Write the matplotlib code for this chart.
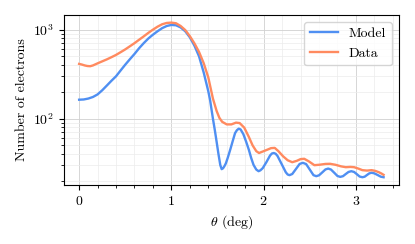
import matplotlib
matplotlib.use("Agg")
import matplotlib.pyplot as plt
from matplotlib.ticker import MultipleLocator

plt.rcParams['font.family'] = 'serif'
plt.rcParams['font.serif'] = ['cmr10']
plt.rcParams['mathtext.fontset'] = 'cm'
plt.rcParams['axes.formatter.use_mathtext'] = True
plt.rcParams['font.size'] = 10

model_theta = [0.00, 0.05, 0.10, 0.15, 0.20, 0.25, 0.30, 0.35, 0.40, 0.45, 0.50, 0.55,
               0.60, 0.65, 0.70, 0.75, 0.80, 0.85, 0.90, 0.95, 1.00, 1.05, 1.10, 1.15,
               1.20, 1.25, 1.30, 1.35, 1.40, 1.42, 1.45, 1.47, 1.49, 1.51, 1.53, 1.545,
               1.56, 1.575, 1.59, 1.61, 1.64, 1.665, 1.69, 1.71, 1.73, 1.75, 1.78, 1.81,
               1.84, 1.865, 1.89, 1.92, 1.945, 1.965, 1.99, 2.03, 2.07, 2.09, 2.11, 2.13,
               2.15, 2.195, 2.24, 2.26, 2.28, 2.31, 2.35, 2.39, 2.425, 2.46, 2.50, 2.54,
               2.57, 2.60, 2.635, 2.67, 2.70, 2.73, 2.765, 2.80, 2.83, 2.86, 2.89, 2.92,
               2.95, 2.98, 3.01, 3.04, 3.07, 3.095, 3.12, 3.145, 3.17, 3.20, 3.235, 3.27,
               3.30]
model_counts = [163, 164, 168, 175, 187, 208, 235, 266, 299, 348, 404, 465,
                533, 618, 705, 795, 878, 960, 1040, 1100, 1130, 1120, 1060, 960,
                820, 660, 500, 330, 203, 160, 100, 75, 55, 40, 30, 27,
                27.6, 29.2, 31.3, 36, 45.5, 56, 68.6, 74, 77, 75.5, 66.8, 55,
                44.4, 36, 30.2, 26.7, 25.6, 26.2, 27.7, 32.4, 38.5, 40.5, 41, 40.2,
                38, 30.8, 24.9, 23.5, 23.1, 23.8, 27.1, 30.9, 31.8, 30.8, 26.7, 23.1,
                22.5, 23.0, 24.8, 26.8, 27.4, 26.7, 24.6, 22.6, 22.1, 22.5, 23.8, 25.1,
                25.6, 25.1, 23.7, 22.3, 21.9, 22.2, 23.2, 24.2, 24.6, 24.2, 23.2, 22.2,
                21.9]

data_theta = [0.00, 0.03, 0.06, 0.09, 0.12, 0.15, 0.20, 0.25, 0.30, 0.35, 0.40, 0.45,
              0.50, 0.55, 0.60, 0.65, 0.70, 0.75, 0.80, 0.85, 0.90, 0.95, 1.00, 1.05,
              1.10, 1.15, 1.20, 1.25, 1.30, 1.35, 1.40, 1.45, 1.49, 1.52, 1.55, 1.60,
              1.65, 1.70, 1.74, 1.79, 1.84, 1.88, 1.92, 1.95, 2.00, 2.04, 2.08, 2.12,
              2.16, 2.21, 2.26, 2.31, 2.36, 2.40, 2.44, 2.49, 2.55, 2.61, 2.67, 2.72,
              2.78, 2.84, 2.89, 2.94, 2.98, 3.03, 3.07, 3.12, 3.17, 3.21, 3.25, 3.28,
              3.30]
data_counts = [412, 405, 396, 390, 388, 396, 418, 440, 463, 490, 520, 558,
               600, 650, 705, 770, 840, 920, 1000, 1080, 1150, 1190, 1200, 1180,
               1100, 990, 845, 700, 560, 420, 290, 168, 122, 102, 92, 86,
               86, 90, 89, 79, 62, 50, 43, 41, 43, 44.7, 46.5, 46.8,
               43, 37.7, 34, 32.3, 33.5, 35, 35.3, 33, 29.9, 30.3, 30.9, 31,
               30.2, 29, 28.4, 28.6, 28.4, 27.3, 26.3, 26, 26.3, 25.8, 24.9, 24,
               23.3]

fig = plt.figure(figsize=(4.15, 2.44), dpi=100)
ax = fig.add_axes([0.154, 0.242, 0.807, 0.697])
ax.plot(model_theta, model_counts, color='#4f8ff2', lw=1.7, label='Model')
ax.plot(data_theta, data_counts, color='#ff8a5f', lw=1.7, label='Data')
ax.set_yscale('log')
ax.xaxis.set_major_locator(MultipleLocator(1))
ax.xaxis.set_minor_locator(MultipleLocator(0.2))
ax.grid(True, which='major', color='#d0d0d0', lw=0.6)
ax.grid(True, which='minor', color='#ececec', lw=0.5)
ax.set_axisbelow(True)
ax.set_xlabel(r'$\theta$ (deg)')
ax.set_ylabel('Number of electrons')
ax.legend(loc='upper right')
fig.savefig('out.png', dpi=100)
